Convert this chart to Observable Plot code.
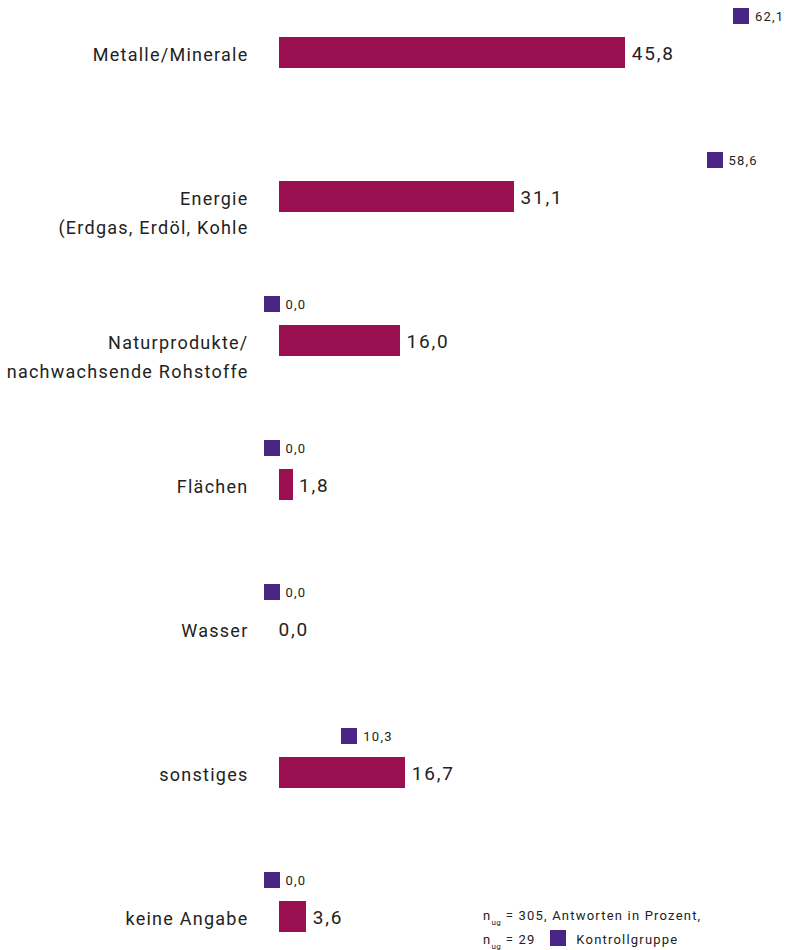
<!DOCTYPE html>
<html><head><meta charset="utf-8">
<script src="https://cdn.jsdelivr.net/npm/d3@7"></script>
<script src="https://cdn.jsdelivr.net/npm/@observablehq/plot@0.6"></script>
<style>
body{margin:0;background:#fff;font-family:Roboto,sans-serif;overflow:hidden;}
#wrap{position:relative;width:792px;height:950px;}
#legend{position:absolute;left:483px;top:904px;font-size:13px;letter-spacing:1.2px;color:#222;line-height:24px;}
#legend div{height:24px;white-space:nowrap;}
#legend sub{font-size:8px;letter-spacing:0.5px;vertical-align:-5px;line-height:0;}
#legend .sw{display:inline-block;width:16px;height:16px;background:#4B2585;vertical-align:-2px;margin:0 6px 0 10px;}
</style></head>
<body><div id="wrap"><div id="chart"></div>
<div id="legend"><div>n<sub>ug</sub> = 305, Antworten in Prozent,</div><div>n<sub>ug</sub> = 29 <span class="sw"></span> Kontrollgruppe</div></div></div>
<script>
const categories = ["Metalle/Minerale", "Energie\n(Erdgas, Erdöl, Kohle", "Naturprodukte/\nnachwachsende Rohstoffe", "Flächen", "Wasser", "sonstiges", "keine Angabe"];
const mainValues = [45.8, 31.1, 16.0, 1.8, 0.0, 16.7, 3.6];
const controlValues = [62.1, 58.6, 0.0, 0.0, 0.0, 10.3, 0.0];

const data = categories.map((c, i) => ({cat: c, v: mainValues[i], k: controlValues[i]}));
const fmt = v => d3.format(".1f")(v).replace(".", ",");
const step = 144, c0 = 52;

const chart = Plot.plot({
  width: 792, height: 950,
  marginLeft: 0, marginRight: 0, marginTop: 0, marginBottom: 0,
  x: {domain: [0, 513 / 7.56], range: [279, 792], axis: null},
  y: {domain: categories, range: [c0 - step / 2, c0 + 6 * step + step / 2], padding: 0, axis: null},
  style: {fontFamily: "Roboto, sans-serif", color: "#222"},
  marks: [
    Plot.barX(data, {x: "v", y: "cat", fill: "#9B1050", insetTop: 57, insetBottom: 56, shapeRendering: "crispEdges"}),
    Plot.dot(data, {x: "k", y: "cat", symbol: "square", r: Math.sqrt(256 / Math.PI), fill: "#4B2585", stroke: null, dx: -8, dy: -37, shapeRendering: "crispEdges"}),
    Plot.text(data, {x: "k", y: "cat", text: d => fmt(d.k), textAnchor: "start", dx: 6, dy: -36, fontSize: 13, fill: "#222"}),
    Plot.text(data.filter(d => d.v > 0), {x: "v", y: "cat", text: d => fmt(d.v), textAnchor: "start", dx: 6, dy: 1, fontSize: 19, fill: "#222"}),
    Plot.text(data.filter(d => d.v === 0), {x: "v", y: "cat", text: d => fmt(d.v), textAnchor: "start", dx: -1, dy: 1, fontSize: 19, fill: "#222"}),
    Plot.text(data, {x: 0, y: "cat", text: "cat", textAnchor: "end", dx: -31, lineAnchor: "top", dy: -13, lineHeight: 1.65, fontSize: 18, fill: "#222"})
  ]
});
chart.querySelectorAll("g[font-size]").forEach(g => {
  const fs = parseFloat(g.getAttribute("font-size"));
  if (fs === 18) g.setAttribute("letter-spacing", "1.25px");
  if (fs === 19) g.setAttribute("letter-spacing", "1.8px");
  if (fs === 13) g.setAttribute("letter-spacing", "1.2px");
});
document.getElementById("chart").appendChild(chart);
</script></body></html>
